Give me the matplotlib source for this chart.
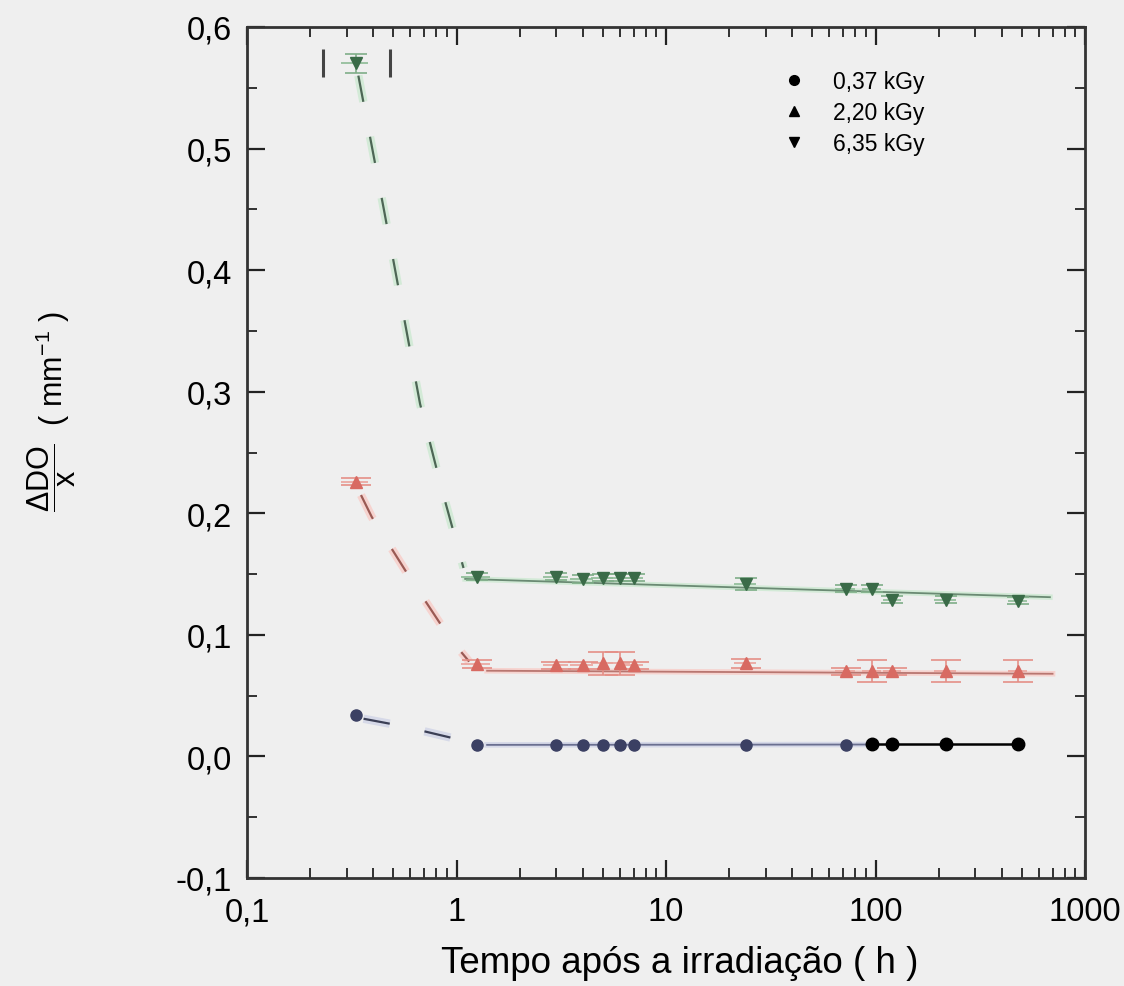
import numpy as np
import matplotlib
matplotlib.use("Agg")
import matplotlib.pyplot as plt
from matplotlib.ticker import FixedLocator, FixedFormatter, LogLocator, NullFormatter, MultipleLocator
from matplotlib.lines import Line2D
import matplotlib.patheffects as pe

plt.rcParams['font.family'] = ['Liberation Sans', 'DejaVu Sans']
plt.rcParams['mathtext.fontset'] = 'custom'
plt.rcParams['mathtext.rm'] = 'Liberation Sans'
plt.rcParams['mathtext.it'] = 'Liberation Sans:italic'
plt.rcParams['mathtext.bf'] = 'Liberation Sans:bold'

# ---------------- data ----------------
times = [0.33, 1.25, 3, 4, 5, 6, 7, 24, 72, 96, 120, 216, 480]
time_xerr = [0.05, 0.2, 0.4, 0.5, 0.6, 0.7, 0.8, 3, 8, 10, 12, 25, 50]

# 0,37 kGy
low_t = [0.33, 1.25, 3, 4, 5, 6, 7, 24, 72]
low_y = [0.034, 0.0095, 0.0095, 0.0095, 0.0095, 0.0095, 0.0095, 0.0098, 0.0098]
low_black_t = [96, 120, 216, 480]
low_black_y = [0.0105, 0.0105, 0.0105, 0.0105]

# 2,20 kGy
mid_y = [0.226, 0.076, 0.075, 0.075, 0.0765, 0.0765, 0.075, 0.0765, 0.070, 0.0705, 0.070, 0.070, 0.070]
mid_yerr = [0.003, 0.003, 0.003, 0.003, 0.0095, 0.0095, 0.003, 0.004, 0.003, 0.009, 0.003, 0.009, 0.009]

# 6,35 kGy
high_y = [0.570, 0.148, 0.148, 0.146, 0.147, 0.147, 0.147, 0.142, 0.138, 0.138, 0.129, 0.129, 0.128]
high_yerr = [0.008, 0.003, 0.003, 0.003, 0.003, 0.003, 0.003, 0.005, 0.003, 0.003, 0.003, 0.003, 0.003]
high_first_xerr_lo = [0.10]
high_first_xerr_hi = [0.15]

# fitted curves (vertices)
high_dash_t = [0.34, 0.45, 0.67, 0.85, 1.08]
high_dash_y = [0.560, 0.450, 0.290, 0.220, 0.155]
mid_dash_t = [0.35, 0.394, 0.594, 0.94, 1.15]
mid_dash_y = [0.215, 0.197, 0.148, 0.096, 0.078]
low_dash_t = [0.36, 0.55, 1.02]
low_dash_y = [0.031, 0.025, 0.014]

high_fit_t = [1.1, 680]
high_fit_y = [0.146, 0.131]
mid_fit_t = [1.4, 700]
mid_fit_y = [0.0705, 0.068]
low_fit_t = [1.4, 96]
low_fit_y = [0.0095, 0.0098]
low_black_fit_t = [96, 480]
low_black_fit_y = [0.0105, 0.0105]

x_ticks = [0.1, 1, 10, 100, 1000]
x_ticklabels = ['0,1', '1', '10', '100', '1000']
y_ticks = [-0.1, 0.0, 0.1, 0.2, 0.3, 0.4, 0.5, 0.6]
y_ticklabels = ['-0,1', '0,0', '0,1', '0,2', '0,3', '0,4', '0,5', '0,6']
legend_labels = ['0,37 kGy', '2,20 kGy', '6,35 kGy']

# ---------------- figure ----------------
W, H = 1124, 987
bg = '#efefef'
fig = plt.figure(figsize=(W / 100, H / 100), dpi=100, facecolor=bg)
ax = fig.add_axes([247 / W, 1 - 879 / H, (1085 - 247) / W, (879 - 28) / H], facecolor=bg)
ax.set_xscale('log')
ax.set_xlim(0.1, 1000)
ax.set_ylim(-0.1, 0.6)

g_col, g_halo = '#3a6b48', '#d3ead7'
r_col, r_halo = '#d86a62', '#f6d3cf'
b_col, b_halo = '#3b4063', '#d6d9e8'


def halo(c, w=6):
    return [pe.Stroke(linewidth=w, foreground=c), pe.Normal()]

dash = (12, 16)
# dashed decay lines
ax.plot(high_dash_t, high_dash_y, color='#4d6655', lw=1.6, dashes=dash, path_effects=halo(g_halo), zorder=2)
ax.plot(mid_dash_t, mid_dash_y, color='#9a5a54', lw=1.6, dashes=dash, path_effects=halo(r_halo), zorder=2)
ax.plot(low_dash_t, low_dash_y, color='#3b3f55', lw=1.6, dashes=dash, path_effects=halo(b_halo), zorder=2)

# solid fit lines
ax.plot(high_fit_t, high_fit_y, color='#6a8a73', lw=1.3, path_effects=halo(g_halo, 4), zorder=2)
ax.plot(mid_fit_t, mid_fit_y, color='#b87670', lw=1.3, path_effects=halo(r_halo, 4), zorder=2)
ax.plot(low_fit_t, low_fit_y, color='#6a6f90', lw=1.3, path_effects=halo(b_halo, 4), zorder=2)
ax.plot(low_black_fit_t, low_black_fit_y, color='black', lw=1.8, zorder=3)

# 6,35 kGy
ax.errorbar(times, high_y, xerr=time_xerr, fmt='none', ecolor='#8dbb96', elinewidth=1.2, capsize=0, zorder=3)
ax.errorbar(times, high_y, yerr=high_yerr, fmt='v', ms=9, color=g_col,
            ecolor='#7fae88', elinewidth=1.2, capsize=8, capthick=1.2, zorder=4)
ax.errorbar(times[:1], high_y[:1], xerr=[high_first_xerr_lo, high_first_xerr_hi], fmt='none',
            ecolor='#444444', elinewidth=0.0, capsize=10, capthick=2.2, zorder=4)
# 2,20 kGy
ax.errorbar(times, mid_y, xerr=time_xerr, fmt='none', ecolor='#eba39c', elinewidth=1.2, capsize=0, zorder=3)
ax.errorbar(times, mid_y, yerr=mid_yerr, fmt='^', ms=9, color=r_col,
            ecolor='#e58f87', elinewidth=1.2, capsize=11, capthick=1.2, zorder=4)
# 0,37 kGy
ax.plot(low_t, low_y, 'o', ms=8, color=b_col, zorder=4)
ax.plot(low_black_t, low_black_y, 'o', ms=9, color='black', zorder=5)

# axes styling
ax.xaxis.set_major_locator(FixedLocator(x_ticks))
ax.xaxis.set_major_formatter(FixedFormatter(x_ticklabels))
ax.xaxis.set_minor_locator(LogLocator(base=10, subs=np.arange(2, 10)))
ax.xaxis.set_minor_formatter(NullFormatter())
ax.yaxis.set_major_locator(FixedLocator(y_ticks))
ax.yaxis.set_major_formatter(FixedFormatter(y_ticklabels))
ax.yaxis.set_minor_locator(MultipleLocator(0.05))
ax.tick_params(which='both', direction='in', top=True, right=True, colors='#222222', labelcolor='black')
ax.tick_params(which='major', length=13, width=1.6, labelsize=23.5)
ax.tick_params(axis='y', which='major', pad=11)
ax.tick_params(axis='x', which='major', pad=13)
ax.tick_params(which='minor', length=7, width=1.3)
for s in ax.spines.values():
    s.set_linewidth(2.0)
    s.set_color('#333333')

ax.set_xlabel('Tempo após a irradiação ( h )', fontsize=26.5)
ax.xaxis.set_label_coords((680 - 247) / (1085 - 247), -0.079)
ax.xaxis.label.set_verticalalignment('top')
fig.text(52 / W, 1 - 412 / H, r'$\dfrac{\mathrm{\Delta DO}}{\mathrm{x}}$  ( mm$^{-1}$ )',
         rotation=90, ha='center', va='center', fontsize=22)

handles = [Line2D([], [], ls='none', marker=m, color='black', ms=7) for m in ['o', '^', 'v']]
fig.legend(handles, legend_labels, loc='upper left', bbox_to_anchor=(783 / W, 1 - 71 / H),
           frameon=False, fontsize=16.5, handlelength=1.0, handletextpad=1.2,
           labelspacing=0.36, borderpad=0, borderaxespad=0)

fig.savefig('out.png', dpi=100, facecolor=bg)
